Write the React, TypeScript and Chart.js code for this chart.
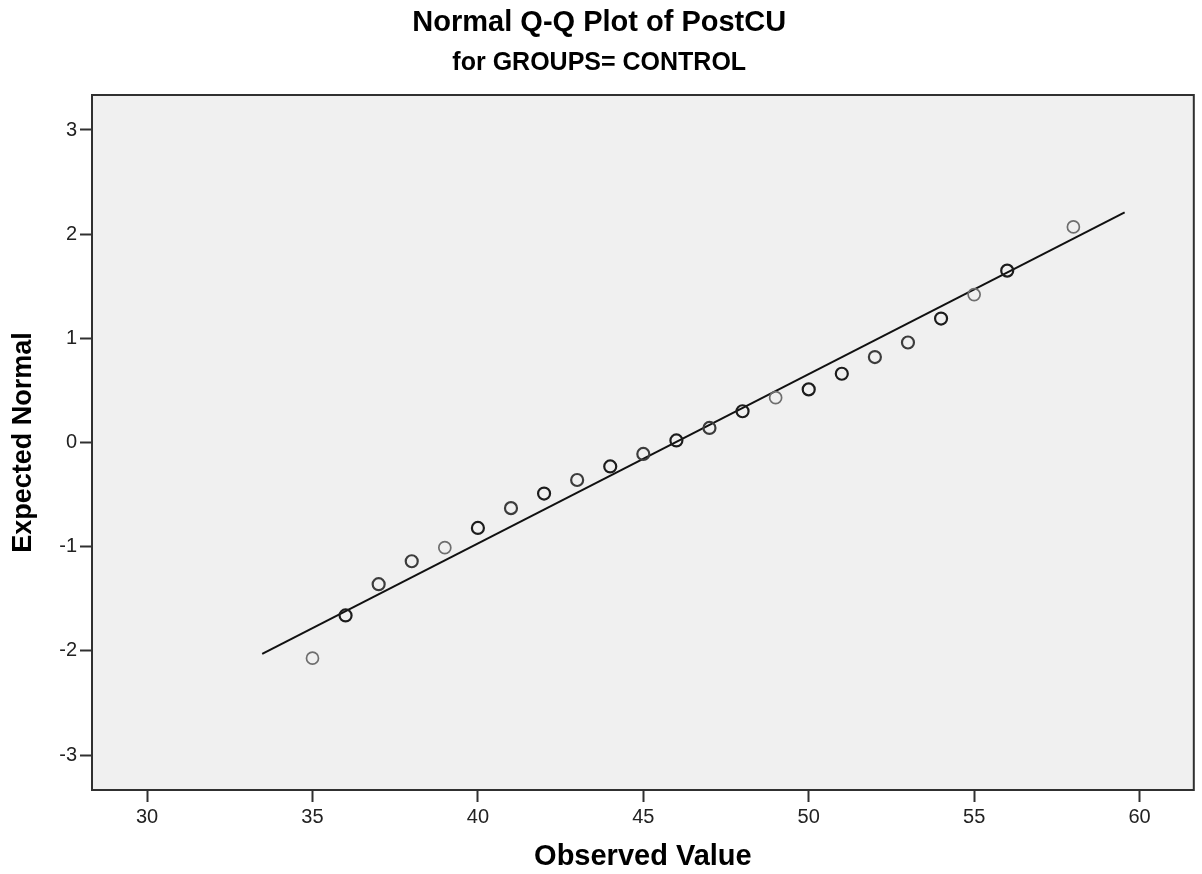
import React, { useEffect, useRef } from "react";
import { Chart, registerables } from "chart.js";

Chart.register(...registerables);

// ---- data ----
const observedValues = [35, 36, 37, 38, 39, 40, 41, 42, 43, 44, 45, 46, 47, 48, 49, 50, 51, 52, 53, 54, 55, 56, 58];
const expectedNormal = [-2.07, -1.66, -1.36, -1.14, -1.01, -0.82, -0.63, -0.49, -0.36, -0.23, -0.11, 0.02, 0.14, 0.3, 0.43, 0.51, 0.66, 0.82, 0.96, 1.19, 1.42, 1.65, 2.07];
const caseCounts = [1, 3, 2, 2, 1, 3, 2, 3, 2, 3, 2, 3, 2, 3, 1, 3, 3, 2, 2, 3, 1, 3, 1];
const refLineX = [33.48, 59.55];
const refLineY = [-2.03, 2.21];
const xTickValues = [30, 35, 40, 45, 50, 55, 60];
const yTickValues = [-3, -2, -1, 0, 1, 2, 3];
const xRange = [28.335, 61.64];
const yRange = [-3.336, 3.336];

const chartTitle = "Normal Q-Q Plot of PostCU";
const chartSubtitle = "for GROUPS= CONTROL";
const xTitle = "Observed Value";
const yTitle = "Expected Normal";

const FONT = "'Liberation Sans', Arial, Helvetica, sans-serif";
const countColor = (c: number) => (c >= 3 ? "#1c1c1c" : c === 2 ? "#3c3c3c" : "#6e6e6e");

const plotFrame = {
  id: "plotFrame",
  beforeDraw(chart: any) {
    const { ctx, chartArea } = chart;
    const { left, top, right, bottom } = chartArea;
    ctx.save();
    ctx.fillStyle = "#f0f0f0";
    ctx.fillRect(left, top, right - left, bottom - top);
    ctx.restore();
  },
  afterDraw(chart: any) {
    const { ctx, chartArea } = chart;
    const { left, top, right, bottom } = chartArea;
    ctx.save();
    ctx.strokeStyle = "#303030";
    ctx.lineWidth = 2;
    ctx.strokeRect(left, top, right - left, bottom - top);
    ctx.restore();
  },
};

export default function App() {
  const canvasRef = useRef<HTMLCanvasElement | null>(null);

  useEffect(() => {
    const canvas = canvasRef.current;
    if (!canvas) return;

    const points = observedValues.map((x, i) => ({ x, y: expectedNormal[i] }));
    const line = refLineX.map((x, i) => ({ x, y: refLineY[i] }));
    const colors = caseCounts.map(countColor);
    const widths = caseCounts.map((c) => (c >= 2 ? 2.2 : 1.7));

    const chart = new Chart(canvas, {
      type: "scatter",
      data: {
        datasets: [
          {
            label: "Observed",
            data: points,
            pointStyle: "circle",
            pointRadius: 6,
            pointBorderWidth: widths,
            pointBorderColor: colors,
            pointBackgroundColor: "rgba(0,0,0,0)",
            showLine: false,
          } as any,
          {
            label: "Reference",
            type: "line",
            data: line,
            borderColor: "#111111",
            borderWidth: 2,
            pointRadius: 0,
            showLine: true,
            fill: false,
          } as any,
        ],
      },
      plugins: [plotFrame],
      options: {
        responsive: false,
        animation: false,
        devicePixelRatio: 1,
        layout: { padding: { left: 0, right: 3.5, top: 0, bottom: 0 } },
        plugins: {
          legend: { display: false },
          tooltip: { enabled: false },
          title: {
            display: true,
            text: chartTitle,
            color: "#000",
            font: { family: FONT, size: 29, weight: "bold", lineHeight: 1.2 },
            padding: { top: 6, bottom: 0 },
          },
          subtitle: {
            display: true,
            text: chartSubtitle,
            color: "#000",
            font: { family: FONT, size: 25, weight: "bold", lineHeight: 1.2 },
            padding: { top: 7, bottom: 17.2 },
          },
        },
        scales: {
          x: {
            type: "linear",
            position: "bottom",
            min: xRange[0],
            max: xRange[1],
            afterBuildTicks: (s: any) => {
              s.ticks = xTickValues.map((v) => ({ value: v }));
            },
            afterFit: (s: any) => {
              s.height = 84;
              s.paddingLeft = 0;
              s.paddingRight = 0;
            },
            ticks: {
              color: "#222",
              font: { family: FONT, size: 20 },
              padding: 3,
              autoSkip: false,
              maxRotation: 0,
            },
            grid: {
              drawOnChartArea: false,
              drawTicks: true,
              tickLength: 12,
              tickColor: "#303030",
              tickWidth: 2,
            },
            border: { display: false },
            title: {
              display: true,
              text: xTitle,
              color: "#000",
              font: { family: FONT, size: 29, weight: "bold", lineHeight: 1.2 },
              padding: { top: 0, bottom: 0 },
            },
          },
          y: {
            type: "linear",
            position: "left",
            min: yRange[0],
            max: yRange[1],
            afterBuildTicks: (s: any) => {
              s.ticks = yTickValues.map((v) => ({ value: v }));
            },
            afterFit: (s: any) => {
              s.width = 92;
              s.paddingTop = 0;
              s.paddingBottom = 0;
            },
            ticks: {
              color: "#222",
              font: { family: FONT, size: 20 },
              padding: 3,
              autoSkip: false,
            },
            grid: {
              drawOnChartArea: false,
              drawTicks: true,
              tickLength: 12,
              tickColor: "#303030",
              tickWidth: 2,
            },
            border: { display: false },
            title: {
              display: true,
              text: yTitle,
              color: "#000",
              font: { family: FONT, size: 27, weight: "bold", lineHeight: 1.2 },
              padding: { top: 7, bottom: 0 },
            },
          },
        },
      } as any,
    });

    return () => chart.destroy();
  }, []);

  return (
    <div style={{ position: "fixed", left: 0, top: 0, width: 1202, height: 874, background: "#fff" }}>
      <canvas ref={canvasRef} width={1202} height={874} style={{ display: "block" }} />
    </div>
  );
}
